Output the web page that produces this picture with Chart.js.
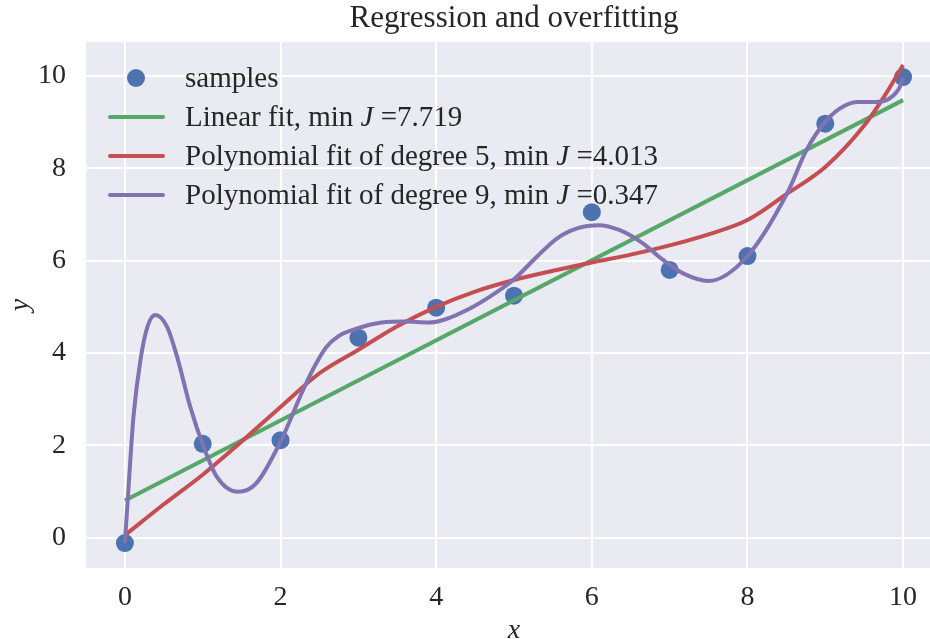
<!DOCTYPE html>
<html>
<head>
<meta charset="utf-8">
<title>Regression and overfitting</title>
<script src="https://cdn.jsdelivr.net/npm/chart.js@4.4.0/dist/chart.umd.min.js"></script>
<style>
    html, body { margin: 0; padding: 0; background: #ffffff; overflow: hidden; }
    #wrap { position: relative; width: 951px; height: 639px; }
    #grafico { display: block; }
    #legenda {
        position: absolute; left: 0; top: 0;
        font-family: 'Liberation Serif', serif; font-size: 29px; color: #262626;
    }
    .item { position: absolute; left: 0; height: 39px; line-height: 39px; white-space: nowrap; }
    .item span.txt { position: absolute; left: 185px; top: 0; }
    .item span.linha { position: absolute; left: 108px; top: 17.5px; width: 57px; height: 4px; border-radius: 2px; }
    .item span.ponto { position: absolute; left: 127px; top: 10.5px; width: 18px; height: 18px; border-radius: 50%; }
</style>
</head>
<body>
<div id="wrap">
    <canvas id="grafico" width="951" height="639"></canvas>
    <div id="legenda"></div>
</div>
<script>
// ===================== DATA =====================
const sampleX = [0, 1, 2, 3, 4, 5, 6, 7, 8, 9, 10];
const sampleY = [-0.12, 2.03, 2.11, 4.33, 4.98, 5.24, 7.05, 5.80, 6.10, 8.97, 9.98];

const linearX = [0, 10];
const linearY = [0.80, 9.48];

const deg5X = [0, 0.5, 1, 1.5, 2, 2.5, 3, 3.5, 4, 4.5, 5, 5.5, 6, 6.5, 7, 7.5, 8, 8.5, 9, 9.5, 9.75, 10];
const deg5Y = [0.05, 0.72, 1.36, 2.08, 2.83, 3.56, 4.07, 4.58, 5.0, 5.33, 5.58, 5.78, 5.96, 6.13, 6.33, 6.57, 6.88, 7.44, 8.03, 8.93, 9.54, 10.24];

const deg9X = [0, 0.05, 0.11, 0.2, 0.29, 0.39, 0.54, 0.67, 0.84, 1.01, 1.18, 1.45, 1.69, 2.0, 2.29, 2.45, 2.59, 2.75, 2.93, 3.1, 3.3, 3.6, 3.9, 4.1,
               4.44, 4.69, 4.99, 5.29, 5.55, 5.81, 6.09, 6.36, 6.66, 6.92, 7.18, 7.5, 7.99, 8.51, 8.76, 8.98, 9.19, 9.41, 9.66, 9.83, 9.96, 10];
const deg9Y = [-0.12, 1.17, 2.62, 3.85, 4.57, 4.82, 4.57, 3.92, 2.83, 1.97, 1.32, 0.99, 1.18, 2.08, 3.20, 3.75, 4.13, 4.37, 4.50, 4.59, 4.66, 4.68, 4.66, 4.72,
               4.97, 5.22, 5.58, 6.08, 6.48, 6.70, 6.77, 6.66, 6.37, 6.01, 5.72, 5.56, 6.08, 7.46, 8.40, 8.97, 9.30, 9.44, 9.44, 9.52, 9.77, 9.98];

const xTicks = [0, 2, 4, 6, 8, 10];
const yTicks = [0, 2, 4, 6, 8, 10];

const legendLabels = [
    "samples",
    "Linear fit, min J =7.719",
    "Polynomial fit of degree 5, min J =4.013",
    "Polynomial fit of degree 9, min J =0.347"
];

// ===================== STYLE =====================
const FONTE = "'Liberation Serif', serif";
const COR_TEXTO = '#262626';
const COR_FUNDO = '#EAEAF2';
const cores = ['#4C72B0', '#55A868', '#C44E52', '#8172B2'];

function pares(xs, ys) {
    return xs.map((x, i) => ({ x: x, y: ys[i] }));
}

// pinta o fundo da area do grafico
const fundoPlugin = {
    id: 'fundo',
    beforeDraw(chart) {
        const a = chart.chartArea;
        const ctx = chart.ctx;
        ctx.save();
        ctx.fillStyle = COR_FUNDO;
        ctx.fillRect(a.left, a.top, a.right - a.left, a.bottom - a.top);
        ctx.restore();
    }
};

// ===================== CHART =====================
const ctx = document.getElementById('grafico').getContext('2d');
const chart = new Chart(ctx, {
    type: 'scatter',
    data: {
        datasets: [
            { label: legendLabels[0], data: pares(sampleX, sampleY), backgroundColor: cores[0], borderWidth: 0,
              pointRadius: 9, showLine: false, order: 4 },
            { label: legendLabels[1], data: pares(linearX, linearY), borderColor: cores[1], borderWidth: 4,
              pointRadius: 0, showLine: true, order: 3 },
            { label: legendLabels[2], data: pares(deg5X, deg5Y), borderColor: cores[2], borderWidth: 4,
              pointRadius: 0, showLine: true, cubicInterpolationMode: 'monotone', order: 2 },
            { label: legendLabels[3], data: pares(deg9X, deg9Y), borderColor: cores[3], borderWidth: 4,
              pointRadius: 0, showLine: true, cubicInterpolationMode: 'monotone', order: 1 }
        ]
    },
    options: {
        responsive: false,
        animation: false,
        devicePixelRatio: 1,
        layout: { padding: { left: 0, right: 3, top: 0, bottom: 0 } },
        plugins: {
            legend: { display: false },
            tooltip: { enabled: false },
            title: {
                display: true,
                fullSize: false,
                text: 'Regression and overfitting',
                color: COR_TEXTO,
                font: { family: FONTE, size: 31, weight: 'normal', lineHeight: 1.1 },
                padding: { top: 2, bottom: 6 }
            }
        },
        scales: {
            x: {
                type: 'linear', min: -0.5, max: 10.5,
                grid: { color: '#ffffff', lineWidth: 2, drawTicks: false },
                border: { display: false },
                ticks: { color: COR_TEXTO, font: { family: FONTE, size: 28 }, padding: 13 },
                title: { display: true, text: 'x', color: COR_TEXTO,
                         font: { family: FONTE, size: 28, style: 'italic', lineHeight: 0.6 }, padding: { top: 0, bottom: 0 } },
                afterBuildTicks: s => { s.ticks = xTicks.map(v => ({ value: v })); },
                afterFit: s => { s.height = 71; }
            },
            y: {
                type: 'linear', min: -0.661, max: 10.737,
                grid: { color: '#ffffff', lineWidth: 2, drawTicks: false },
                border: { display: false },
                ticks: { color: COR_TEXTO, font: { family: FONTE, size: 28 }, padding: 20 },
                title: { display: true, text: 'y', color: COR_TEXTO,
                         font: { family: FONTE, size: 28, style: 'italic', lineHeight: 1.2 }, padding: { top: 4, bottom: 0 } },
                afterBuildTicks: s => { s.ticks = yTicks.map(v => ({ value: v })); },
                afterFit: s => { s.width = 86; }
            }
        }
    },
    plugins: [fundoPlugin]
});

// ===================== LEGEND =====================
function montarLegenda() {
    const div = document.getElementById('legenda');
    const linhas = [77.5, 116.5, 155.5, 194.5];
    chart.data.datasets.forEach((ds, i) => {
        const item = document.createElement('div');
        item.className = 'item';
        item.style.top = (linhas[i] - 19.5) + 'px';
        const marca = document.createElement('span');
        if (ds.showLine) {
            marca.className = 'linha';
            marca.style.background = ds.borderColor;
        } else {
            marca.className = 'ponto';
            marca.style.background = ds.backgroundColor;
        }
        const txt = document.createElement('span');
        txt.className = 'txt';
        const partes = ds.label.split(' J ');
        if (partes.length === 2) {
            txt.innerHTML = partes[0] + ' <i>J</i> ' + partes[1];
        } else {
            txt.textContent = ds.label;
        }
        item.appendChild(marca);
        item.appendChild(txt);
        div.appendChild(item);
    });
}
montarLegenda();
</script>
</body>
</html>
